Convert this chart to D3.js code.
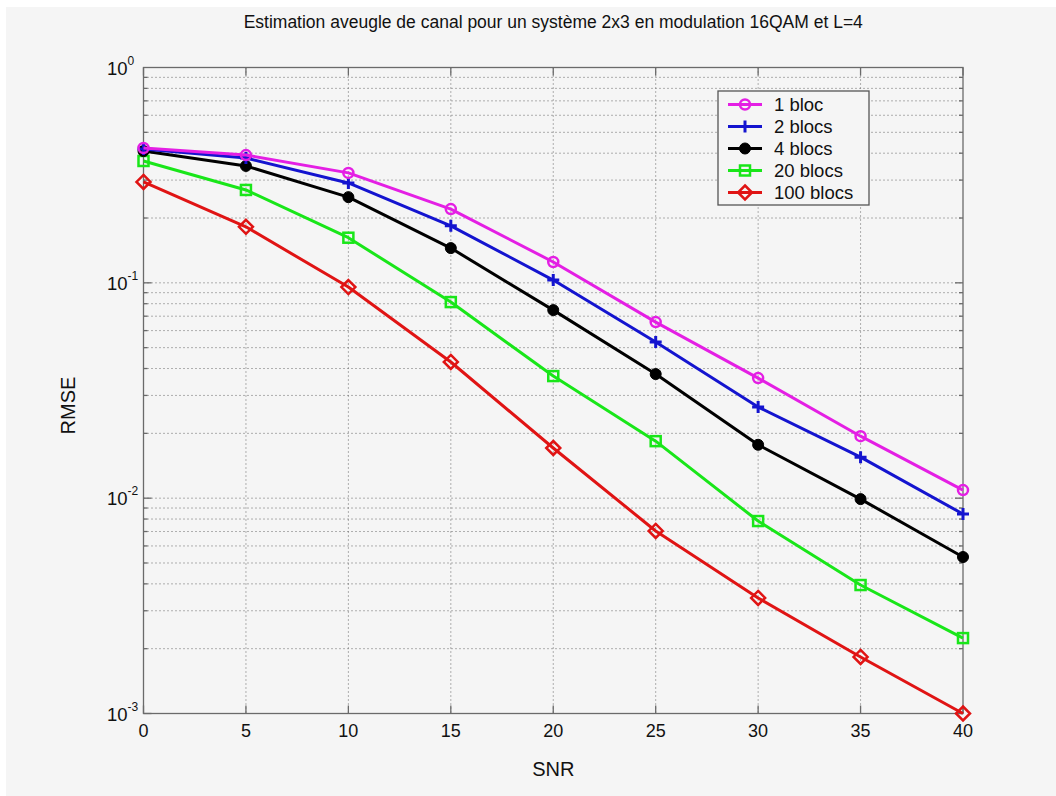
<!DOCTYPE html>
<html>
<head>
<meta charset="utf-8">
<script src="https://cdn.jsdelivr.net/npm/d3@7"></script>
<style>
  html, body { margin: 0; padding: 0; background: #ffffff; }
  svg { display: block; }
  text { font-family: Arial, "Liberation Sans", sans-serif; fill: #111; }
</style>
</head>
<body>
<script>
// SNR values (dB) on the horizontal axis
const snr = [0, 5, 10, 15, 20, 25, 30, 35, 40];

// RMSE of the blind channel estimate, one array per number of blocks
const rmse1 = [0.423, 0.392, 0.324, 0.220, 0.125, 0.0657, 0.0361, 0.0194, 0.0109];
const rmse2 = [0.418, 0.380, 0.291, 0.184, 0.103, 0.0531, 0.0265, 0.0155, 0.00844];
const rmse4 = [0.409, 0.349, 0.250, 0.145, 0.0747, 0.0377, 0.0177, 0.0099, 0.00533];
const rmse20 = [0.368, 0.270, 0.162, 0.0814, 0.0369, 0.0184, 0.00783, 0.00395, 0.00224];
const rmse100 = [0.294, 0.182, 0.0956, 0.0429, 0.0171, 0.00704, 0.00344, 0.00183, 0.00100];

const seriesNames = ["1 bloc", "2 blocs", "4 blocs", "20 blocs", "100 blocs"];
const seriesValues = [rmse1, rmse2, rmse4, rmse20, rmse100];
const seriesColors = ["#e41fe4", "#1414cf", "#000000", "#19e619", "#e01414"];
const seriesMarkers = ["circle", "plus", "dot", "square", "diamond"];

const xTicks = [0, 5, 10, 15, 20, 25, 30, 35, 40];
const yDecades = [-3, -2, -1, 0];

const titleText = "Estimation aveugle de canal pour un système 2x3 en modulation 16QAM et L=4";
const xLabel = "SNR";
const yLabel = "RMSE";

const W = 1056, H = 796;
const m = { left: 143.5, right: 963, top: 67.5, bottom: 713.5 };

const svg = d3.select("body").append("svg").attr("width", W).attr("height", H);

// figure background
svg.append("rect").attr("x", 6).attr("y", 7).attr("width", W - 6).attr("height", H - 7).attr("fill", "#f5f5f5");

const x = d3.scaleLinear().domain([0, 40]).range([m.left, m.right]);
const y = d3.scaleLog().domain([1e-3, 1]).range([m.bottom, m.top]);

const grid = svg.append("g");
// vertical grid lines
x.ticks(8).forEach(t => {
  if (t === 0 || t === 40) return;
  grid.append("line").attr("x1", x(t)).attr("x2", x(t)).attr("y1", m.top).attr("y2", m.bottom)
    .attr("stroke", "#666").attr("stroke-width", 1).attr("stroke-dasharray", "1,3");
});
// horizontal grid lines: decades and minor ticks
const minor = [];
yDecades.forEach(d => {
  if (d < 0) for (let k = 1; k <= 9; k++) minor.push(k * Math.pow(10, d));
});
minor.forEach(v => {
  if (v <= 1e-3 || v >= 1) return;
  grid.append("line").attr("x1", m.left).attr("x2", m.right).attr("y1", y(v)).attr("y2", y(v))
    .attr("stroke", "#666").attr("stroke-width", 1).attr("stroke-dasharray", "1,3");
});

// axes box with inward ticks
const axG = svg.append("g").attr("stroke", "#6a6a6a").attr("stroke-width", 1.3).attr("fill", "none");
axG.append("rect").attr("x", m.left).attr("y", m.top).attr("width", m.right - m.left).attr("height", m.bottom - m.top);
xTicks.forEach(t => {
  axG.append("line").attr("x1", x(t)).attr("x2", x(t)).attr("y1", m.bottom).attr("y2", m.bottom - 8);
  axG.append("line").attr("x1", x(t)).attr("x2", x(t)).attr("y1", m.top).attr("y2", m.top + 8);
});
minor.forEach(v => {
  const len = (Math.abs(Math.log10(v) - Math.round(Math.log10(v))) < 1e-9) ? 8 : 4;
  axG.append("line").attr("x1", m.left).attr("x2", m.left + len).attr("y1", y(v)).attr("y2", y(v));
  axG.append("line").attr("x1", m.right).attr("x2", m.right - len).attr("y1", y(v)).attr("y2", y(v));
});

// x tick labels
xTicks.forEach(t => {
  svg.append("text").attr("x", x(t)).attr("y", m.bottom + 23).attr("text-anchor", "middle")
    .attr("font-size", 18).text(t);
});
// y tick labels (powers of ten)
yDecades.forEach(d => {
  const tx = svg.append("text").attr("x", 107).attr("y", y(Math.pow(10, d)) + 7)
    .attr("font-size", 18.5);
  tx.append("tspan").text("10");
  tx.append("tspan").attr("dy", -10).attr("font-size", 12).text(d);
});

// title and axis labels
svg.append("text").attr("x", (m.left + m.right) / 2).attr("y", 28).attr("text-anchor", "middle")
  .attr("font-size", 17.5).text(titleText);
svg.append("text").attr("x", (m.left + m.right) / 2).attr("y", 776).attr("text-anchor", "middle")
  .attr("font-size", 20).text(xLabel);
svg.append("text").attr("transform", `translate(75,${(m.top + m.bottom) / 2 + 15}) rotate(-90)`)
  .attr("text-anchor", "middle").attr("font-size", 20).text(yLabel);

function drawMarker(g, kind, cx, cy, color) {
  if (kind === "circle") {
    g.append("circle").attr("cx", cx).attr("cy", cy).attr("r", 5).attr("fill", "none")
      .attr("stroke", color).attr("stroke-width", 2.5);
  } else if (kind === "plus") {
    g.append("path").attr("d", `M${cx - 6},${cy}H${cx + 6}M${cx},${cy - 6}V${cy + 6}`)
      .attr("stroke", color).attr("stroke-width", 3);
  } else if (kind === "dot") {
    g.append("circle").attr("cx", cx).attr("cy", cy).attr("r", 5.5).attr("fill", color)
      .attr("stroke", color).attr("stroke-width", 1);
  } else if (kind === "square") {
    g.append("rect").attr("x", cx - 5).attr("y", cy - 5).attr("width", 10).attr("height", 10)
      .attr("fill", "none").attr("stroke", color).attr("stroke-width", 2.5);
  } else if (kind === "diamond") {
    g.append("path").attr("d", `M${cx},${cy - 7}L${cx + 7},${cy}L${cx},${cy + 7}L${cx - 7},${cy}Z`)
      .attr("fill", "none").attr("stroke", color).attr("stroke-width", 2.5);
  }
}

// data lines, drawn so the first series lands on top
const line = d3.line().x((d, i) => x(snr[i])).y(d => y(d));
const plotG = svg.append("g");
for (let s = seriesValues.length - 1; s >= 0; s--) {
  const g = plotG.append("g");
  g.append("path").datum(seriesValues[s]).attr("d", line).attr("fill", "none")
    .attr("stroke", seriesColors[s]).attr("stroke-width", 3).attr("stroke-linejoin", "round");
  seriesValues[s].forEach((v, i) => drawMarker(g, seriesMarkers[s], x(snr[i]), y(v), seriesColors[s]));
}

// legend
const lg = svg.append("g");
lg.append("rect").attr("x", 718).attr("y", 91).attr("width", 151).attr("height", 114)
  .attr("fill", "#f5f5f5").attr("stroke", "#555").attr("stroke-width", 1.3);
seriesNames.forEach((name, i) => {
  const yy = 104.5 + i * 22;
  lg.append("line").attr("x1", 728).attr("x2", 762).attr("y1", yy).attr("y2", yy)
    .attr("stroke", seriesColors[i]).attr("stroke-width", 3);
  drawMarker(lg, seriesMarkers[i], 745, yy, seriesColors[i]);
  lg.append("text").attr("x", 774).attr("y", yy + 6.5).attr("font-size", 18.5).text(name);
});
</script>
</body>
</html>
